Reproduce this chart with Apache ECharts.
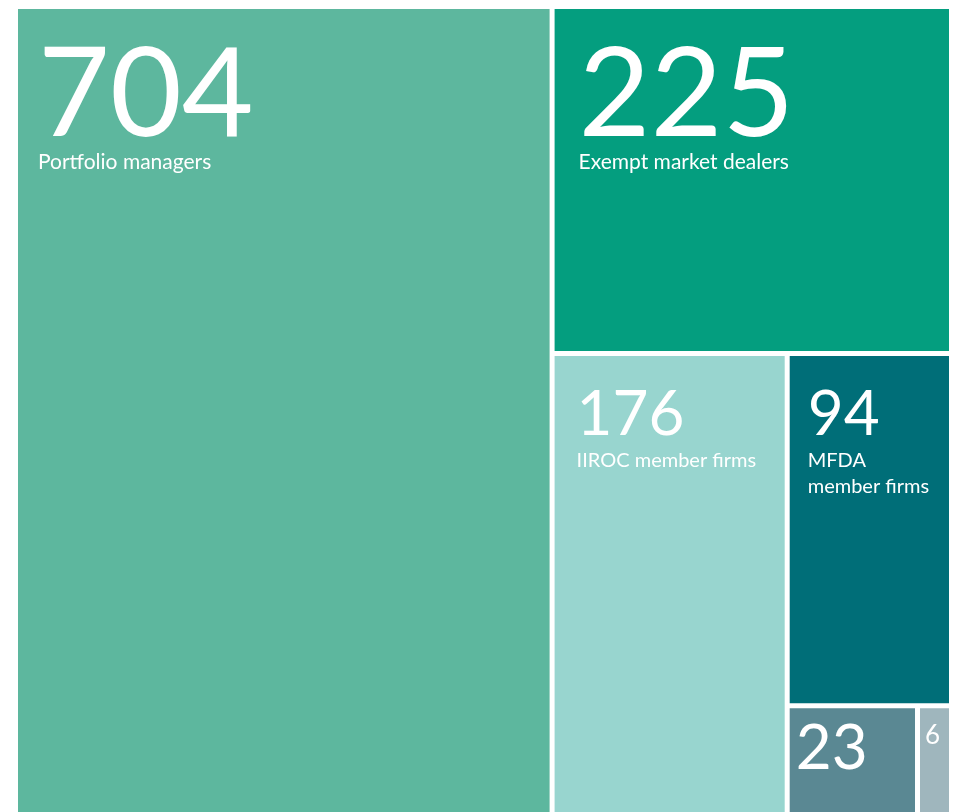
<!DOCTYPE html>
<html><head><meta charset="utf-8">
<script src="https://cdn.jsdelivr.net/npm/echarts@6/dist/echarts.min.js"></script>
<style>html,body{margin:0;padding:0;background:#fff}#c{width:957px;height:812px}</style>
</head><body><div id="c"></div>
<script>
const names = ['Portfolio managers', 'Exempt market dealers', 'IIROC member firms', 'MFDA member firms', '', ''];
const values = [704, 225, 176, 94, 23, 6];
const colors = ['#5DB79E', '#049E7F', '#98D5CF', '#006E78', '#5A8893', '#9FB6BD'];
// label styling per cell
const numSize = [124, 124, 62, 62, 62, 26];
const numLine = [105, 105, 66, 66, 56, 26];
const nameSize = [21, 21, 20, 20, 20, 20];
const wrapName = [false, false, false, true, false, false];
const pads = [[35, 0, 0, 20], [35, 0, 0, 24], [26, 0, 0, 22], [26, 0, 0, 18], [13, 0, 0, 6], [14, 0, 0, 5]];
const FONT = 'Lato, "Open Sans", sans-serif';

function leaf(i) {
  let nm = names[i];
  if (wrapName[i]) nm = nm.replace(' ', '}\n{n|');
  const fmt = nm ? '{v|' + values[i] + '}\n{n|' + nm + '}' : '{v|' + values[i] + '}';
  return {
    name: names[i] || String(values[i]),
    value: values[i],
    itemStyle: { color: colors[i] },
    label: {
      formatter: fmt,
      padding: pads[i],
      rich: {
        v: { fontSize: numSize[i], lineHeight: numLine[i], color: '#fff', fontFamily: FONT },
        n: { fontSize: nameSize[i], lineHeight: 26, color: '#fff', fontFamily: FONT }
      }
    }
  };
}

const data = [
  leaf(0), leaf(1), leaf(2),
  { name: 'group', children: [leaf(3), leaf(4), leaf(5)] }
];

const gap = { borderWidth: 0, gapWidth: 5, borderColor: '#fff' };
const chart = echarts.init(document.getElementById('c'));
chart.setOption({
  animation: false,
  series: [{
    type: 'treemap',
    left: 18, top: 9, right: 8, bottom: 0,
    roam: false, nodeClick: false,
    breadcrumb: { show: false },
    squareRatio: 1.46,
    sort: false,
    itemStyle: gap,
    levels: [{ itemStyle: gap }, { itemStyle: gap }, { itemStyle: gap }],
    upperLabel: { show: false },
    label: { show: true, position: 'insideTopLeft', overflow: 'none', color: '#fff', fontFamily: FONT },
    emphasis: { disabled: true },
    data: data
  }]
});
</script></body></html>
